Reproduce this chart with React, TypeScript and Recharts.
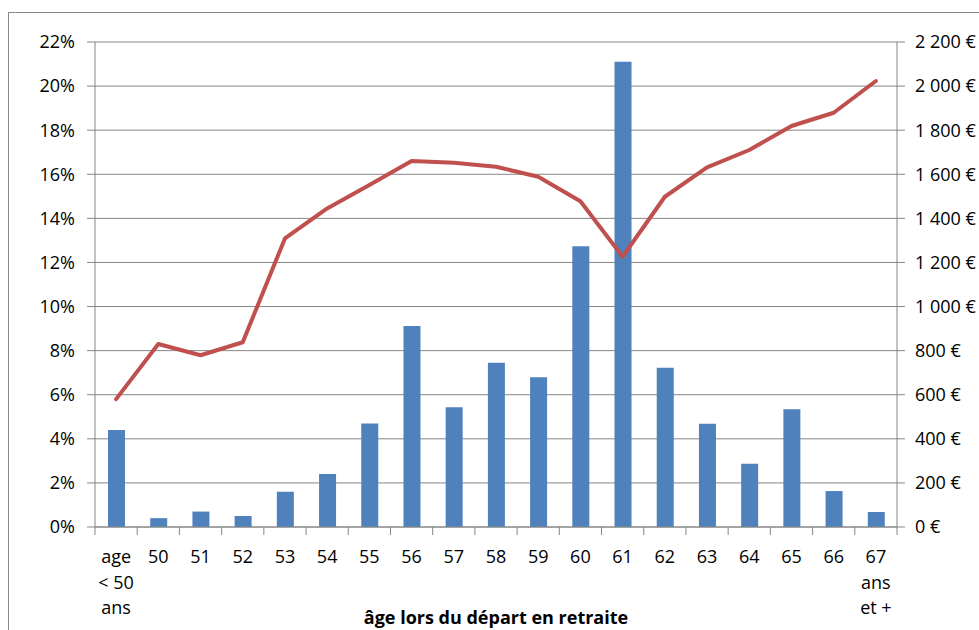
import React from 'react';
import { ComposedChart, Bar, Line, XAxis, YAxis, CartesianGrid, Label } from 'recharts';

// Retirement age categories (multi-line labels split on \n)
const categories = [
  'age\n< 50\nans', '50', '51', '52', '53', '54', '55', '56', '57', '58',
  '59', '60', '61', '62', '63', '64', '65', '66', '67\nans\net +',
];

// Share of retirees leaving at each age (percent)
const shareOfRetirees = [
  4.4, 0.4, 0.7, 0.5, 1.6, 2.4, 4.7, 9.12, 5.43, 7.45,
  6.79, 12.74, 21.1, 7.22, 4.68, 2.87, 5.34, 1.63, 0.68,
];

// Average monthly pension (euros)
const averagePension = [
  580, 830, 779, 838, 1309, 1445, 1551, 1660, 1652, 1634,
  1589, 1478, 1226, 1498, 1631, 1710, 1819, 1879, 2023,
];

const percentTicks = [0, 2, 4, 6, 8, 10, 12, 14, 16, 18, 20, 22];
const euroTicks = [0, 200, 400, 600, 800, 1000, 1200, 1400, 1600, 1800, 2000, 2200];

const xAxisTitle = 'âge lors du départ en retraite';

const data = categories.map((cat, i) => ({
  cat,
  share: shareOfRetirees[i],
  pension: averagePension[i],
}));

const WIDTH = 979;
const HEIGHT = 630;
const LEFT_AXIS_W = 95;
const RIGHT_AXIS_W = 82;
const TOP = 42;
const BOTTOM = 103;
const PLOT_W = WIDTH - LEFT_AXIS_W - RIGHT_AXIS_W;
const PLOT_BOTTOM = HEIGHT - BOTTOM;
const BAND = PLOT_W / categories.length;

const FONT = '"Open Sans", sans-serif';
const FONT_SIZE = 18;
const GRID = '#868686';

const formatEuro = (v: number) => {
  if (v >= 1000) {
    const th = Math.floor(v / 1000);
    const rest = String(v % 1000).padStart(3, '0');
    return `${th} ${rest} €`;
  }
  return `${v} €`;
};

const CategoryTick = (props: any) => {
  const { x, payload, index } = props;
  const lines = String(payload.value).split('\n');
  const left = x - BAND / 2;
  return (
    <g>
      <line x1={left} x2={left} y1={PLOT_BOTTOM} y2={PLOT_BOTTOM + 8} stroke={GRID} strokeWidth={1} />
      {index === categories.length - 1 && (
        <line x1={x + BAND / 2} x2={x + BAND / 2} y1={PLOT_BOTTOM} y2={PLOT_BOTTOM + 8} stroke={GRID} strokeWidth={1} />
      )}
      <text x={x} y={PLOT_BOTTOM + 36} textAnchor="middle" fontFamily={FONT} fontSize={FONT_SIZE} fill="#000">
        {lines.map((l, k) => (
          <tspan key={k} x={x} dy={k === 0 ? 0 : 25.5}>
            {l}
          </tspan>
        ))}
      </text>
    </g>
  );
};

// Axis title drawn with its baseline just above the bottom edge
const AxisTitle = (props: any) => {
  const { viewBox } = props;
  const cx = viewBox.x + viewBox.width / 2;
  return (
    <text
      x={cx}
      y={viewBox.y + viewBox.height - 6}
      textAnchor="middle"
      fontFamily={FONT}
      fontSize={18}
      fontWeight={700}
      fill="#000"
    >
      {xAxisTitle}
    </text>
  );
};

export default function App() {
  return (
    <div style={{ position: 'absolute', left: 0, top: 0, width: WIDTH, height: HEIGHT, background: '#fff' }}>
      <div
        style={{
          position: 'absolute',
          left: 8,
          top: 12,
          width: WIDTH - 8,
          height: HEIGHT - 12,
          boxSizing: 'border-box',
          borderLeft: '1px solid #8a8a8a',
          borderTop: '1px solid #8a8a8a',
        }}
      />
      <div style={{ position: 'absolute', left: 0, top: 0 }}>
        <ComposedChart
          width={WIDTH}
          height={HEIGHT}
          data={data}
          margin={{ top: TOP, right: 0, bottom: 0, left: 0 }}
          barCategoryGap={0}
        >
          <CartesianGrid vertical={false} stroke={GRID} strokeWidth={1} yAxisId="left" />
          <XAxis
            dataKey="cat"
            interval={0}
            height={BOTTOM}
            axisLine={{ stroke: GRID, strokeWidth: 1 }}
            tickLine={false}
            tick={<CategoryTick />}
          >
            <Label content={<AxisTitle />} />
          </XAxis>
          <YAxis
            yAxisId="left"
            orientation="left"
            width={LEFT_AXIS_W}
            domain={[0, 22]}
            ticks={percentTicks}
            tickFormatter={(v: number) => `${v}%`}
            tickSize={8}
            tickMargin={12}
            axisLine={{ stroke: GRID, strokeWidth: 1 }}
            tickLine={{ stroke: GRID, strokeWidth: 1 }}
            tick={{ fontFamily: FONT, fontSize: FONT_SIZE, fill: '#000' }}
            interval={0}
          />
          <YAxis
            yAxisId="right"
            orientation="right"
            width={RIGHT_AXIS_W}
            domain={[0, 2200]}
            ticks={euroTicks}
            tickFormatter={formatEuro}
            tickSize={8}
            tickMargin={10}
            axisLine={{ stroke: GRID, strokeWidth: 1 }}
            tickLine={{ stroke: GRID, strokeWidth: 1 }}
            tick={{ fontFamily: FONT, fontSize: FONT_SIZE, fill: '#000' }}
            interval={0}
          />
          <Bar
            yAxisId="left"
            dataKey="share"
            fill="#4F81BD"
            barSize={17}
            isAnimationActive={false}
          />
          <Line
            yAxisId="right"
            dataKey="pension"
            type="linear"
            stroke="#C0504D"
            strokeWidth={4}
            dot={false}
            activeDot={false}
            strokeLinejoin="round"
            strokeLinecap="round"
            isAnimationActive={false}
          />
        </ComposedChart>
      </div>
    </div>
  );
}
